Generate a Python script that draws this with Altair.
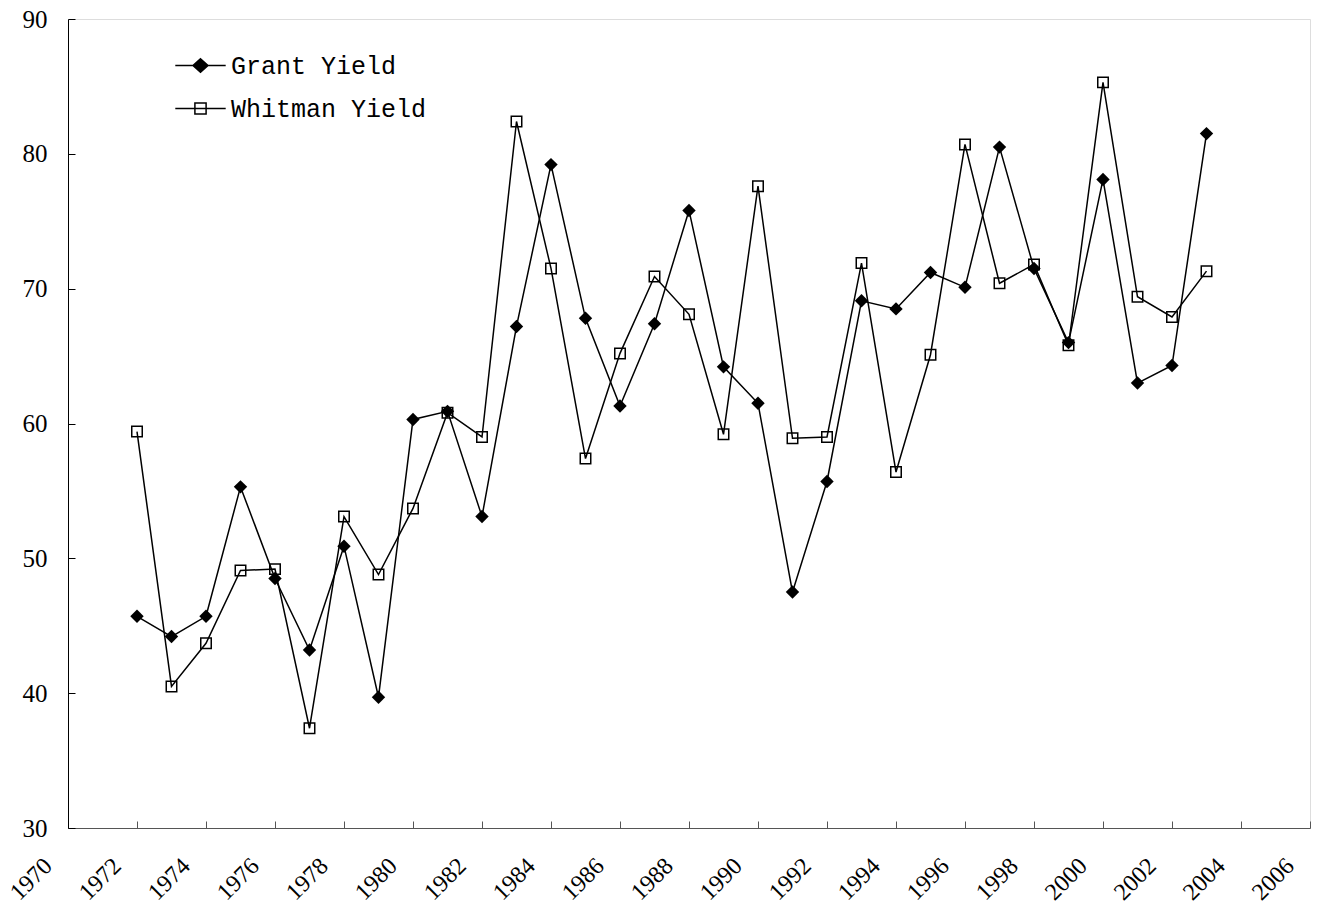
import altair as alt
import pandas as pd

years = list(range(1972, 2004))
grant = [45.7, 44.2, 45.7, 55.3, 48.5, 43.2, 50.9, 39.7,
         60.3, 60.9, 53.1, 67.2, 79.2, 67.8, 61.3, 67.4, 75.8, 64.2,
         61.5, 47.5, 55.7, 69.1, 68.5, 71.2, 70.1, 80.5, 71.5, 66.0,
         78.1, 63.0, 64.3, 81.5]
whitman = [59.4, 40.5, 43.7, 49.1, 49.2, 37.4, 53.1, 48.8,
           53.7, 60.8, 59.0, 82.4, 71.5, 57.4, 65.2, 70.9, 68.1, 59.2,
           77.6, 58.9, 59.0, 71.9, 56.4, 65.1, 80.7, 70.4, 71.8, 65.8,
           85.3, 69.4, 67.9, 71.3]
series_names = ["Grant Yield", "Whitman Yield"]
x_ticks = list(range(1970, 2007, 2))
y_ticks = list(range(30, 91, 10))

df = pd.DataFrame({
    "year": years + years,
    "value": grant + whitman,
    "series": [series_names[0]] * len(years) + [series_names[1]] * len(years),
})

xaxis = alt.Axis(values=x_ticks, format="d", labelAngle=315, labelAlign="right",
                 labelBaseline="middle", labelFont="Liberation Serif", labelFontSize=24,
                 labelColor="black", labelPadding=41, labelOffset=-20,
                 tickSize=alt.ExprRef("-7"), tickColor="#555", domainColor="#555",
                 grid=False, title=None, labelFlush=False, labelOverlap=False)
yaxis = alt.Axis(values=y_ticks, labelFont="Liberation Serif", labelFontSize=25,
                 labelColor="black", labelPadding=28, tickSize=alt.ExprRef("-7"),
                 tickColor="black", domainColor="black", grid=False, title=None,
                 labelFlush=False)

X = alt.X("year:Q", scale=alt.Scale(domain=[1970, 2006], nice=False, zero=False), axis=xaxis)
Y = alt.Y("value:Q", scale=alt.Scale(domain=[30, 90], nice=False, zero=False), axis=yaxis)

base = alt.Chart(df).encode(x=X, y=Y)

lines = base.mark_line(color="black", strokeWidth=1.5).encode(detail="series:N")
grant_pts = base.transform_filter(alt.datum.series == series_names[0]).mark_point(
    shape="diamond", filled=True, color="black", size=180, opacity=1)
whit_pts = base.transform_filter(alt.datum.series == series_names[1]).mark_point(
    shape="square", filled=False, color="black", size=110, strokeWidth=1.5, opacity=1)

path_g = "M-3.6,0L3.6,0M0,-0.95L1.07,0L0,0.95L-1.07,0Z"
path_w = "M-3.6,0L3.6,0M-0.8,-0.8L0.8,-0.8L0.8,0.8L-0.8,0.8Z"

leg = alt.Legend(title=None, orient="none", legendX=120, legendY=34,
                 labelFont="Liberation Mono", labelFontSize=25, labelColor="black",
                 labelLimit=0,
                 symbolSize=196, symbolStrokeWidth=1.5,
                 symbolOpacity=1, labelOffset=18, rowPadding=17, padding=0)

legend_layer = alt.Chart(df).transform_filter("false").mark_point(
    strokeWidth=1.5, opacity=1).encode(
    x=X, y=Y,
    shape=alt.Shape("series:N", scale=alt.Scale(domain=series_names, range=[path_g, path_w]), legend=leg),
    fill=alt.Fill("series:N", scale=alt.Scale(domain=series_names, range=["black", "transparent"]), legend=leg),
    stroke=alt.Stroke("series:N", scale=alt.Scale(domain=series_names, range=["black", "black"]), legend=leg),
)

chart = alt.layer(lines, grant_pts, whit_pts, legend_layer).properties(
    width=1242, height=809,
    padding={"left": 60, "top": 11, "right": 5, "bottom": 78},
    autosize="none",
).configure_view(stroke=None).configure(background="white")

chart.save("out.html", embed_options={"renderer": "svg", "actions": False})
